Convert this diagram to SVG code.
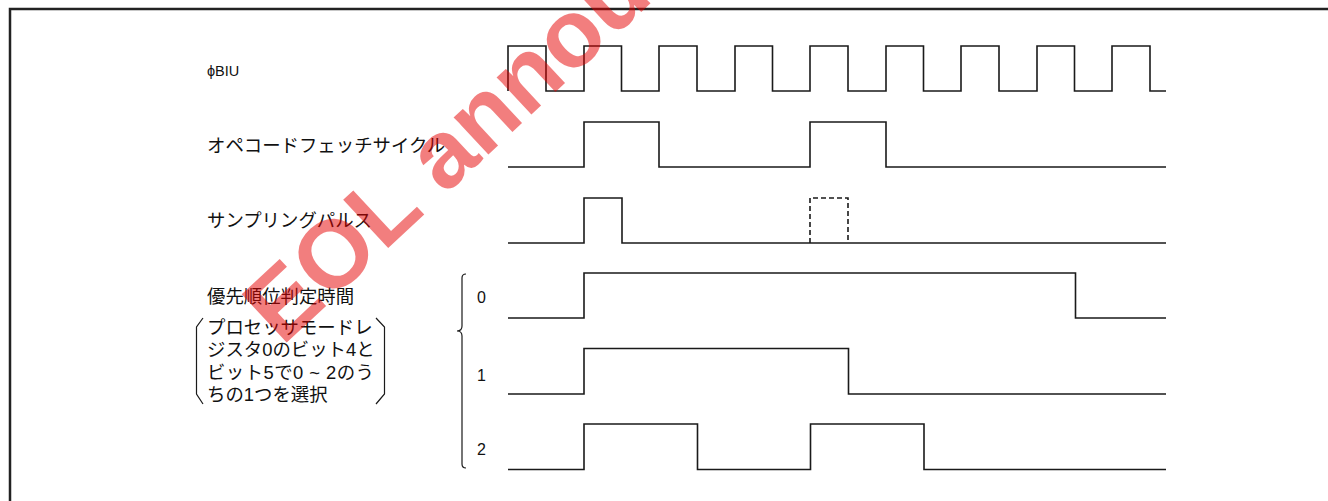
<svg xmlns="http://www.w3.org/2000/svg" width="1328" height="501" viewBox="0 0 1328 501">
<style>
.bg{fill:#ffffff}
.frame{fill:none;stroke:#222;stroke-width:2.5}
.wave{fill:none;stroke:#1a1a1a;stroke-width:1.6;stroke-linejoin:miter}
.dash{fill:none;stroke:#1a1a1a;stroke-width:1.6;stroke-dasharray:5 3}
.brk{fill:none;stroke:#1a1a1a;stroke-width:1.2}
.jp{font-family:"Liberation Sans","Noto Sans CJK JP",sans-serif;font-size:18.4px;fill:#111}
.sm{font-family:"Liberation Sans","DejaVu Sans",sans-serif;font-size:14.5px;fill:#111}
.num{font-family:"Liberation Sans",sans-serif;font-size:16px;fill:#111}
.wm{font-family:"Liberation Sans",sans-serif;font-weight:bold;font-size:96px;fill:#e60000;opacity:0.5}
</style>
<rect class="bg" x="0" y="0" width="1328" height="501"/>
<path class="frame" d="M10,501 V9 H1328"/>

<g id="label-biu"><text class="sm" x="207" y="76">ϕBIU</text></g>
<g id="label-opfetch"><text class="jp" x="207" y="151.5">オペコードフェッチサイクル</text></g>
<g id="label-sampling"><text class="jp" x="207" y="227">サンプリングパルス</text></g>
<g id="label-priority">
<text class="jp" x="207" y="302.5">優先順位判定時間</text>
<text class="jp" x="207" y="334">プロセッサモードレ</text>
<text class="jp" x="207" y="356.3">ジスタ0のビット4と</text>
<text class="jp" x="207" y="378.6" textLength="167" lengthAdjust="spacing">ビット5で0 ~ 2のう</text>
<text class="jp" x="207" y="401">ちの1つを選択</text>
<path class="brk" d="M203,318 L196.5,327 V394 L203,404"/>
<path class="brk" d="M376,318 L384.5,327 V394 L376,404"/>
</g>

<g id="sig-biu"><path class="wave" d="M508,91 V46 H546 V91 H584 V46 H621.5 V91 H659 V46 H697 V91 H735 V46 H772.5 V91 H810 V46 H848 V91 H886 V46 H923.5 V91 H961 V46 H999 V91 H1037 V46 H1074.5 V91 H1112 V46 H1150 V91 H1166"/></g>
<g id="sig-opfetch"><path class="wave" d="M508,167 H584 V122 H659 V167 H810 V122 H886 V167 H1166"/></g>
<g id="sig-sampling">
<path class="wave" d="M508,243 H584 V198 H622 V243 H1166"/>
<path class="dash" d="M810,243 V198 H848 V243"/>
</g>
<g id="sig-p0"><text class="num" x="477" y="303">0</text><path class="wave" d="M508,318 H584 V273 H1075.5 V318 H1166"/></g>
<g id="sig-p1"><text class="num" x="477" y="380.5">1</text><path class="wave" d="M508,394 H584 V348.5 H848.5 V394 H1166"/></g>
<g id="sig-p2"><text class="num" x="477" y="455">2</text><path class="wave" d="M508,469.5 H584 V424 H697.5 V469.5 H810.5 V424 H924 V469.5 H1166"/></g>

<g id="connectors">
<path class="brk" d="M466,274 Q462,274 462,278 V326 Q462,331 457,331 Q462,331 462,336 V464 Q462,468 466,468"/>
</g>

<g id="watermark"><text class="wm" x="282" y="347" transform="rotate(-43 282 347)">EOL announced</text></g>
</svg>
